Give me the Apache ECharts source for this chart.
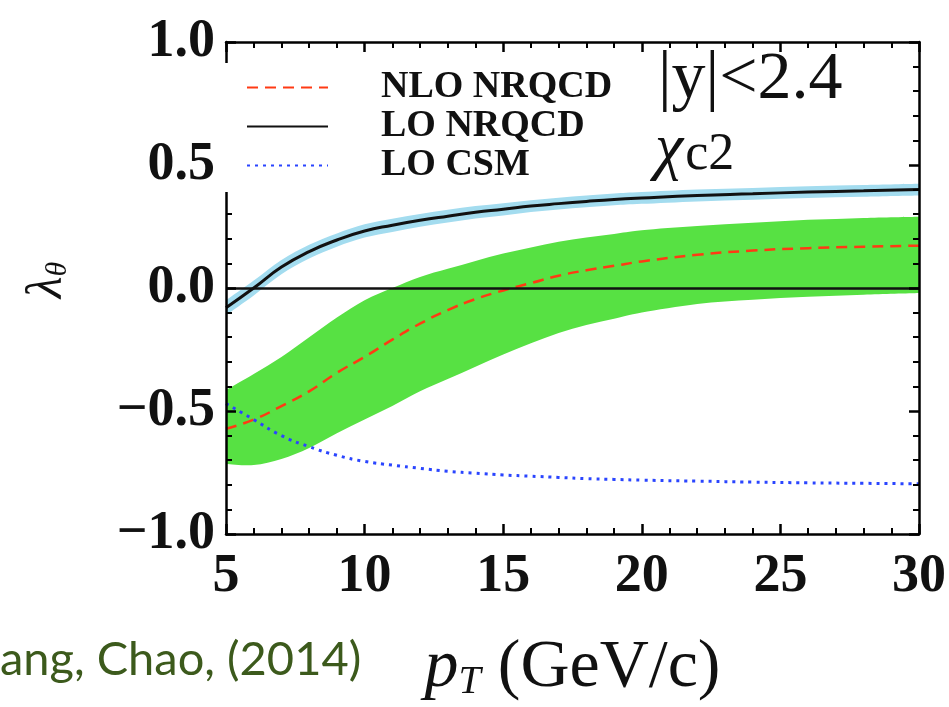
<!DOCTYPE html>
<html>
<head>
<meta charset="utf-8">
<script src="https://cdn.jsdelivr.net/npm/echarts@6/dist/echarts.min.js"></script>
<style>
  html, body { margin: 0; padding: 0; background: #fff; }
</style>
</head>
<body>
<!-- chart container -->
<div id="chart" style="width:949px; height:707px"></div>
<script>
// pT values (GeV/c)
var pt = [5, 6, 7, 8, 9, 10, 11, 12, 13, 14, 15, 16, 17, 18, 19, 20, 22, 24, 26, 28, 30];

// NLO NRQCD central + band
var nloCentral = [-0.572, -0.535, -0.48, -0.42, -0.345, -0.28, -0.21, -0.145, -0.09, -0.045, -0.01, 0.02, 0.05, 0.072, 0.09, 0.108, 0.135, 0.152, 0.162, 0.168, 0.172];
var nloUpper = [-0.415, -0.35, -0.28, -0.2, -0.12, -0.05, 0.0, 0.045, 0.078, 0.11, 0.14, 0.165, 0.188, 0.205, 0.22, 0.235, 0.252, 0.265, 0.277, 0.285, 0.29];
var nloLower = [-0.715, -0.72, -0.695, -0.65, -0.59, -0.535, -0.48, -0.42, -0.37, -0.32, -0.27, -0.225, -0.183, -0.15, -0.125, -0.1, -0.065, -0.048, -0.036, -0.027, -0.02];

// LO NRQCD central + thin band
var loNrqcd = [-0.08, 0.0, 0.085, 0.148, 0.195, 0.232, 0.255, 0.275, 0.292, 0.308, 0.32, 0.333, 0.343, 0.352, 0.36, 0.366, 0.376, 0.383, 0.39, 0.395, 0.40];
var loUpper = [-0.05, 0.03, 0.114, 0.176, 0.222, 0.259, 0.282, 0.301, 0.318, 0.333, 0.345, 0.357, 0.367, 0.376, 0.384, 0.39, 0.4, 0.407, 0.414, 0.419, 0.424];
var loLower = [-0.11, -0.03, 0.056, 0.12, 0.168, 0.205, 0.228, 0.249, 0.266, 0.283, 0.295, 0.309, 0.319, 0.328, 0.336, 0.342, 0.352, 0.359, 0.366, 0.371, 0.376];

// LO CSM
var loCsm = [-0.47, -0.535, -0.6, -0.645, -0.68, -0.705, -0.72, -0.733, -0.745, -0.753, -0.76, -0.765, -0.77, -0.775, -0.778, -0.781, -0.785, -0.789, -0.792, -0.794, -0.796];

var serif = "'Liberation Serif', 'DejaVu Serif', serif";

function pairs(ys) {
  return pt.map(function (x, i) { return [x, ys[i]]; });
}
function fmt(v) {
  var s = Math.abs(v).toFixed(1);
  return v < 0 ? "\u2212" + s : s;
}
// smooth path through pixel points (catmull-rom -> bezier)
function curve(p, start) {
  var d = (start ? "M" : "L") + p[0][0] + "," + p[0][1];
  for (var i = 0; i < p.length - 1; i++) {
    var p0 = p[i - 1] || p[i], p1 = p[i], p2 = p[i + 1], p3 = p[i + 2] || p2;
    var c1 = [p1[0] + (p2[0] - p0[0]) / 6, p1[1] + (p2[1] - p0[1]) / 6];
    var c2 = [p2[0] - (p3[0] - p1[0]) / 6, p2[1] - (p3[1] - p1[1]) / 6];
    d += "C" + c1.join(",") + " " + c2.join(",") + " " + p2.join(",");
  }
  return d;
}
// band: upper edge left->right, lower edge back
function bandSeries(lo, hi, color, z) {
  return {
    type: "custom",
    silent: true,
    z: z,
    clip: true,
    data: pt.map(function (x, i) { return [x, lo[i], hi[i]]; }),
    encode: { x: 0, y: [1, 2] },
    renderItem: function (params, api) {
      if (params.dataIndex !== 0) return;
      var up = [], dn = [];
      for (var i = 0; i < pt.length; i++) up.push(api.coord([pt[i], hi[i]]));
      for (var j = pt.length - 1; j >= 0; j--) dn.push(api.coord([pt[j], lo[j]]));
      return {
        type: "path",
        shape: { pathData: curve(up, true) + curve(dn, false) + "Z" },
        style: { fill: color }
      };
    }
  };
}

var axisCol = "#000";
// ticks point into the frame on all four sides
var tick = { show: true, inside: true, length: 10, lineStyle: { color: axisCol, width: 2.5 } };
var minor = { show: true, splitNumber: 5, length: 6, lineStyle: { color: axisCol, width: 2 } };
var line = { show: true, onZero: false, lineStyle: { color: axisCol, width: 2.5 } };

var myChart = echarts.init(document.getElementById("chart"));

myChart.setOption({
  animation: false,
  grid: { left: 226, right: 30, top: 42, bottom: 170 },
  legend: {
    orient: "vertical",
    left: 246,
    top: 68,
    padding: 0,
    itemGap: 0,
    itemWidth: 81,
    itemHeight: 14,
    selectedMode: false,
    itemStyle: { opacity: 0 },
    data: ["NLO NRQCD", "LO NRQCD", "LO CSM"],
    textStyle: {
      fontFamily: serif,
      fontWeight: "bold",
      fontSize: 38,
      lineHeight: 39,
      color: "#111",
      padding: [0, 0, 0, 48]
    }
  },
  xAxis: [
    {
      type: "value", min: 5, max: 30, interval: 5, z: 10,
      axisLine: line, axisTick: tick, minorTick: minor,
      splitLine: { show: false },
      axisLabel: { margin: 16, fontFamily: serif, fontWeight: "bold", fontSize: 54, color: "#111" },
      name: "{p|p}{s|T} (GeV/c)",
      nameLocation: "middle",
      nameGap: 100,
      nameTextStyle: {
        fontFamily: serif, fontSize: 68, color: "#111",
        rich: {
          p: { fontFamily: serif, fontStyle: "italic", fontSize: 68, color: "#111" },
          s: { fontFamily: serif, fontStyle: "italic", fontSize: 40, color: "#111", verticalAlign: "bottom", padding: [26, 0, 0, 0] }
        }
      }
    },
    {
      type: "value", min: 5, max: 30, interval: 5, position: "top", z: 10,
      axisLine: line, axisTick: tick, minorTick: minor,
      splitLine: { show: false }, axisLabel: { show: false }
    }
  ],
  yAxis: [
    {
      type: "value", min: -1, max: 1, interval: 0.5, z: 10,
      axisLine: line, axisTick: tick, minorTick: minor,
      splitLine: { show: false },
      axisLabel: { margin: 11, formatter: fmt, fontFamily: serif, fontWeight: "bold", fontSize: 54, color: "#111" }
    },
    {
      type: "value", min: -1, max: 1, interval: 0.5, position: "right", z: 10,
      axisLine: line, axisTick: tick, minorTick: minor,
      splitLine: { show: false }, axisLabel: { show: false }
    }
  ],
  graphic: [
    // the legend box hides part of the left axis
    { type: "rect", z: 100, shape: { x: 220, y: 63, width: 16, height: 129 }, style: { fill: "#fff" } },
    {
      type: "text", z: 100, left: 658, top: 46,
      style: { text: "|y|<2.4", font: "68px " + serif, fill: "#111" }
    },
    {
      type: "text", z: 100, left: 655, top: 118,
      style: {
        text: "{c|\u03c7}{s|c2}",
        rich: {
          c: { fontFamily: serif, fontStyle: "italic", fontSize: 64, fill: "#111" },
          s: { fontFamily: serif, fontSize: 52, fill: "#111", padding: [10, 0, 0, 2] }
        }
      }
    },
    // y axis title, reads upwards
    {
      type: "text", z: 100, x: 48, y: 280, rotation: Math.PI / 2,
      style: {
        text: "{l|\u03bb}{t|\u03b8}", align: "center", verticalAlign: "middle",
        rich: {
          l: { fontFamily: serif, fontStyle: "italic", fontSize: 50, fill: "#111" },
          t: { fontFamily: serif, fontStyle: "italic", fontSize: 30, fill: "#111", padding: [20, 0, 0, 0] }
        }
      }
    },
    {
      type: "text", z: 100, left: 0, top: 636,
      style: { text: "ang, Chao, (2014)", font: "47px Lato, 'Open Sans', sans-serif", fill: "#3c5a1c" }
    }
  ],
  series: [
    bandSeries(nloLower, nloUpper, "#57e143", 1),
    bandSeries(loLower, loUpper, "#a3dcef", 2),
    {
      name: "NLO NRQCD", type: "line", data: pairs(nloCentral), symbol: "none", smooth: true, z: 4,
      lineStyle: { color: "#ff3a14", width: 2.5, type: [11, 7] },
      itemStyle: { color: "#ff3a14" },
      markLine: {
        silent: true, symbol: "none", label: { show: false },
        lineStyle: { color: "#111", width: 2.5, type: "solid" },
        data: [{ yAxis: 0 }]
      }
    },
    {
      name: "LO NRQCD", type: "line", data: pairs(loNrqcd), symbol: "none", smooth: true, z: 5,
      lineStyle: { color: "#111", width: 3 },
      itemStyle: { color: "#111" }
    },
    {
      name: "LO CSM", type: "line", data: pairs(loCsm), symbol: "none", smooth: true, z: 5,
      lineStyle: { color: "#2a45ff", width: 3, type: [3, 5] },
      itemStyle: { color: "#2a45ff" }
    }
  ]
});
</script>
</body>
</html>
